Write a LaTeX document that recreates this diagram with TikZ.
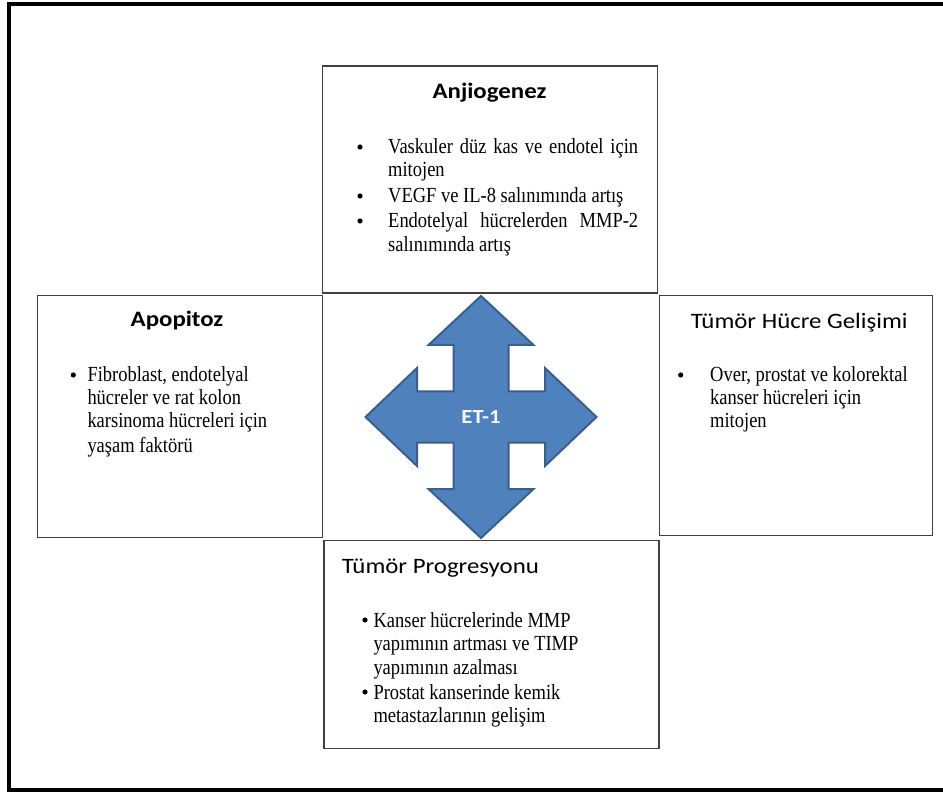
\documentclass[tikz,border=0pt]{standalone}
\usepackage{fontspec}
\setmainfont{Liberation Serif}
\newfontfamily\bodyfont[FakeStretch=0.86]{Liberation Serif}
\newfontfamily\titlefont[FakeStretch=1.13]{Carlito}
\definecolor{arrowfill}{HTML}{4F81BD}
\definecolor{arrowline}{HTML}{3A5F8C}
\definecolor{boxline}{HTML}{404040}
\begin{document}
\begin{tikzpicture}[x=1pt,y=-1pt,
  box/.style={draw=boxline, line width=1.2pt, rectangle, inner sep=0pt, anchor=north west},
  body/.style={anchor=base west, inner sep=0pt, font=\bodyfont\fontsize{21.5}{24}\selectfont},
  ttl/.style={anchor=base, inner sep=0pt, font=\titlefont\fontsize{22}{26}\selectfont},
  ttlb/.style={anchor=base, inner sep=0pt, font=\titlefont\bfseries\fontsize{22}{26}\selectfont},
  bul/.style={fill=black}]
\useasboundingbox (0,0) rectangle (943,794);
\begin{scope}
  \clip (0,0) rectangle (943,794);
  \draw[line width=4pt] (9,4) rectangle (960,789.5);
\end{scope}

% boxes
\node[box, minimum width=334.5pt, minimum height=227pt] (anj) at (322,65.5) {};
\node[box, minimum width=285pt, minimum height=241.7pt] (apo) at (36.7,295) {};
\node[box, minimum width=272.5pt, minimum height=240pt] (tum) at (659,295) {};
\node[box, minimum width=335pt, minimum height=208pt] (pro) at (323.3,540) {};

% Anjiogenez
\node[ttlb] (anjt) at (489.5,99) {Anjiogenez};
\fill[bul] (360,147) circle (2.6);
\node[body] (a1) at (388,154) {\makebox[250pt][s]{Vaskuler düz kas ve endotel için}};
\node[body] (a2) at (388,177) {mitojen};
\fill[bul] (360,196) circle (2.6);
\node[body] (a3) at (388,203) {VEGF ve IL-8 salınımında artış};
\fill[bul] (360,221) circle (2.6);
\node[body] (a4) at (388,228) {\makebox[250pt][s]{Endotelyal hücrelerden MMP-2}};
\node[body] (a5) at (388,252) {salınımında artış};

% Apopitoz
\node[ttlb] (apot) at (177,327) {Apopitoz};
\fill[bul] (73.3,375) circle (2.6);
\node[body] (p1) at (87.3,382) {Fibroblast, endotelyal};
\node[body] (p2) at (87.3,405) {hücreler ve rat kolon};
\node[body] (p3) at (87.3,428) {karsinoma hücreleri için};
\node[body] (p4) at (87.3,452) {yaşam faktörü};

% Tümör Hücre Gelişimi
\node[ttl, anchor=base west] (tumt) at (690.7,329) {Tümör Hücre Gelişimi};
\fill[bul] (680.7,375) circle (2.6);
\node[body] (t1) at (710,382) {Over, prostat ve kolorektal};
\node[body] (t2) at (710,405) {kanser hücreleri için};
\node[body] (t3) at (710,428) {mitojen};

% Tümör Progresyonu
\node[ttl, anchor=base west] (prot) at (341.7,573) {Tümör Progresyonu};
\fill[bul] (365,620) circle (2.6);
\node[body] (r1) at (373.3,627) {Kanser hücrelerinde MMP};
\node[body] (r2) at (373.3,650.7) {yapımının artması ve TIMP};
\node[body] (r3) at (373.3,674) {yapımının azalması};
\fill[bul] (365,692) circle (2.6);
\node[body] (r4) at (373.3,699) {Prostat kanserinde kemik};
\node[body] (r5) at (373.3,722) {metastazlarının gelişim};

% four-way arrow
\draw[fill=arrowfill, draw=arrowline, line width=2pt, line join=miter]
  (481,296) -- (533.5,345) -- (508.5,345) -- (508.5,391.5) -- (545,391.5) -- (545,368)
  -- (596.5,417) -- (545,466) -- (545,442.5) -- (508.5,442.5) -- (508.5,489) -- (533.5,489)
  -- (481,538) -- (428.5,489) -- (453.5,489) -- (453.5,442.5) -- (417,442.5) -- (417,466)
  -- (365.5,417) -- (417,368) -- (417,391.5) -- (453.5,391.5) -- (453.5,345) -- (428.5,345) -- cycle;
\node[inner sep=0pt, text=white!94!arrowfill, font=\titlefont\bfseries\fontsize{20}{24}\selectfont] (et) at (481,417) {ET-1};
\end{tikzpicture}
\end{document}
